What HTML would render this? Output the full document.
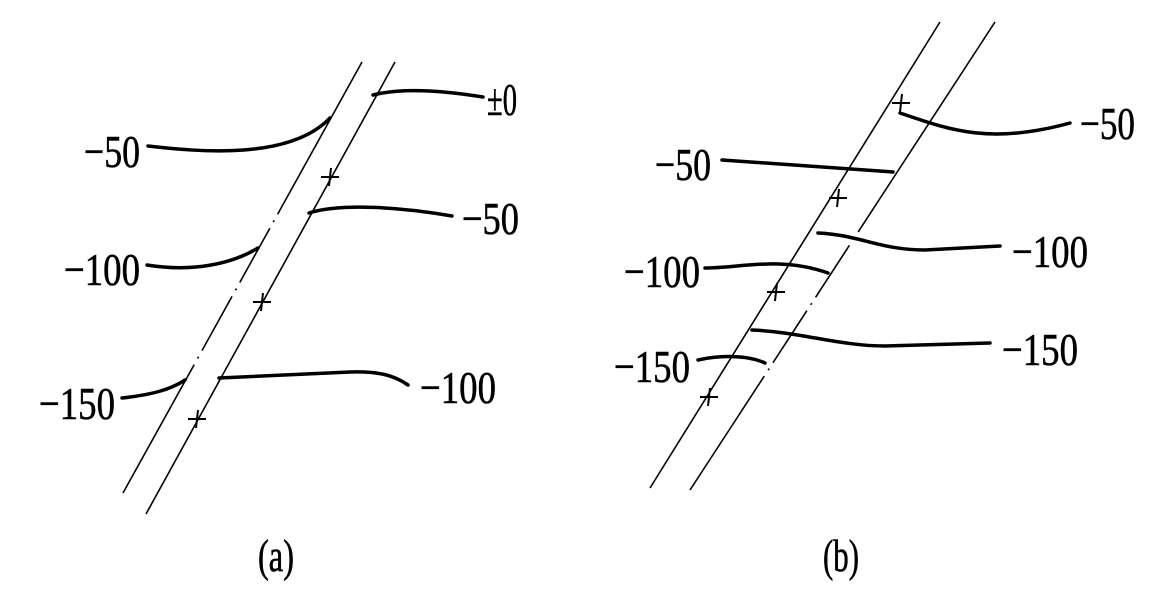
<!DOCTYPE html>
<html><head><meta charset="utf-8"><style>
html,body{margin:0;padding:0;background:#fff;}
svg{display:block;}
text{font-family:"Liberation Serif",serif;font-size:46px;fill:#000;stroke:#000;stroke-width:0.6;}
</style></head><body>
<svg width="1158" height="608" viewBox="0 0 1158 608" xmlns="http://www.w3.org/2000/svg">
<g stroke="#000" fill="none" stroke-width="1.6">
<line x1="362" y1="62" x2="307.7" y2="160"/>
<line x1="307.7" y1="160" x2="182.9" y2="385" stroke-dasharray="62 7 2 7"/>
<line x1="182.9" y1="385" x2="123" y2="493"/>
<line x1="395" y1="62" x2="146" y2="514"/>
<line x1="940" y1="22" x2="650" y2="488"/>
<line x1="995" y1="22" x2="892" y2="180"/>
<line x1="892" y1="180" x2="732.4" y2="425" stroke-dasharray="62 7 2 7"/>
<line x1="732.4" y1="425" x2="690" y2="490"/>
</g>
<g stroke="#000" fill="none" stroke-width="2">
<path d="M321,177h18M331,168l-2,18"/>
<path d="M253,302h18M263,293l-2,18"/>
<path d="M188,419h18M198,410l-2,18"/>
<path d="M892,103h18M902,94l-2,18"/>
<path d="M829,198h18M839,189l-2,18"/>
<path d="M767,292h18M777,283l-2,18"/>
<path d="M700,397h18M710,388l-2,18"/>
</g>
<g stroke="#000" fill="none" stroke-width="3.5" stroke-linecap="round">
<path d="M373,95 C400,88 440,90 483,97"/>
<path d="M148,146 C200,152 290,160 330,118"/>
<path d="M309,213 C340,203 400,207 452,216"/>
<path d="M147,265 C190,272 230,265 258,248"/>
<path d="M219,378 L350,372 C380,371 395,376 408,385"/>
<path d="M122,398 C150,395 170,390 185,380"/>
<path d="M900,113 C950,130 990,145 1070,123"/>
<path d="M722,160 L893,172"/>
<path d="M818,233 C860,235 880,250 925,250 L1000,246"/>
<path d="M705,268 C740,268 780,256 828,273"/>
<path d="M752,330 C800,332 840,346 885,346 L990,343"/>
<path d="M698,360 C720,355 748,355 765,363"/>
</g>
<text x="84" y="167" textLength="56" lengthAdjust="spacingAndGlyphs">−50</text>
<text x="487" y="115" textLength="30" lengthAdjust="spacingAndGlyphs">±0</text>
<text x="462" y="234" textLength="57" lengthAdjust="spacingAndGlyphs">−50</text>
<text x="64" y="285" textLength="76" lengthAdjust="spacingAndGlyphs">−100</text>
<text x="420" y="403" textLength="76" lengthAdjust="spacingAndGlyphs">−100</text>
<text x="39" y="419" textLength="76" lengthAdjust="spacingAndGlyphs">−150</text>
<text x="258" y="571" textLength="36" lengthAdjust="spacingAndGlyphs">(a)</text>
<text x="1080" y="139" textLength="55" lengthAdjust="spacingAndGlyphs">−50</text>
<text x="655" y="180" textLength="56" lengthAdjust="spacingAndGlyphs">−50</text>
<text x="1012" y="267" textLength="76" lengthAdjust="spacingAndGlyphs">−100</text>
<text x="624" y="287" textLength="76" lengthAdjust="spacingAndGlyphs">−100</text>
<text x="1002" y="365" textLength="76" lengthAdjust="spacingAndGlyphs">−150</text>
<text x="614" y="382" textLength="76" lengthAdjust="spacingAndGlyphs">−150</text>
<text x="823" y="571" textLength="36" lengthAdjust="spacingAndGlyphs">(b)</text>
</svg>
</body></html>
